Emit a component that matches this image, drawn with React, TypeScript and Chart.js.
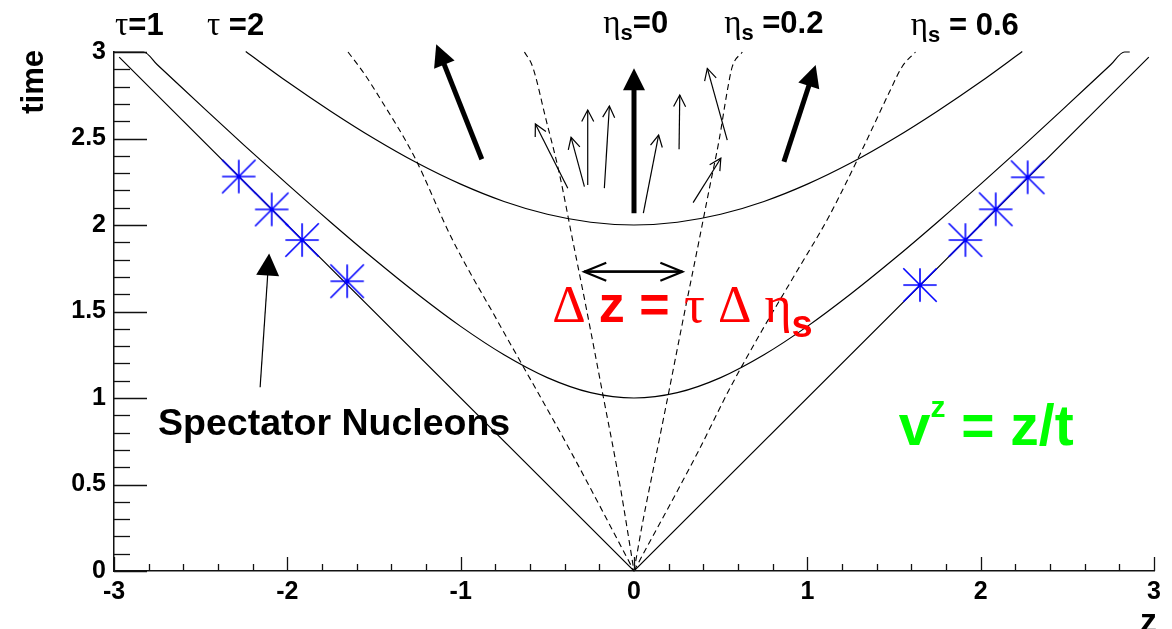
import { useEffect, useRef } from 'react';
import { Chart, registerables } from 'chart.js';

Chart.register(...registerables);

// ---------- axis ticks ----------
const xTickValues = [-3, -2, -1, 0, 1, 2, 3];
const xTickLabels = ['-3', '-2', '-1', '0', '1', '2', '3'];
const yTickValues = [0, 0.5, 1, 1.5, 2, 2.5, 3];
const yTickLabels = ['0', '0.5', '1', '1.5', '2', '2.5', '3'];

// ---------- light cone t = |z| ----------
const lightConeZ = [-2.97, 0, 2.97];
const lightConeT = [2.97, 0, 2.97];

// ---------- hyperbola tau = 1 ----------
const tau1Z = [-3, -2.83, -2.75, -2.5, -2.25, -2, -1.75, -1.5, -1.25, -1, -0.75, -0.5, -0.25, 0,
  0.25, 0.5, 0.75, 1, 1.25, 1.5, 1.75, 2, 2.25, 2.5, 2.75, 2.83, 2.86];
const tau1T = [3, 3, 2.926, 2.693, 2.462, 2.236, 2.016, 1.803, 1.601, 1.414, 1.25, 1.118, 1.031, 1,
  1.031, 1.118, 1.25, 1.414, 1.601, 1.803, 2.016, 2.236, 2.462, 2.693, 2.926, 3, 3];

// ---------- hyperbola tau = 2 ----------
const tau2Z = [-2.24, -2, -1.75, -1.5, -1.25, -1, -0.75, -0.5, -0.25, 0,
  0.25, 0.5, 0.75, 1, 1.25, 1.5, 1.75, 2, 2.24];
const tau2T = [3.003, 2.828, 2.658, 2.5, 2.358, 2.236, 2.136, 2.062, 2.016, 2,
  2.016, 2.062, 2.136, 2.236, 2.358, 2.5, 2.658, 2.828, 3.003];

// ---------- space-time rapidity lines (dashed) ----------
const etaM06Z = [-1.65, -1.56, -1.47, -1.27, -1.05, -0.79, -0.37, 0];
const etaM06T = [3.0, 2.88, 2.74, 2.4, 1.92, 1.45, 0.7, 0];
const etaM02Z = [-0.632, -0.585, -0.507, -0.431, -0.354, -0.277, -0.181, -0.085, 0];
const etaM02T = [3.0, 2.915, 2.607, 2.299, 1.913, 1.528, 1.027, 0.52, 0];
const etaP02Z = [0, 0.049, 0.126, 0.203, 0.279, 0.376, 0.433, 0.491, 0.539, 0.567, 0.625];
const etaP02T = [0, 0.276, 0.661, 1.046, 1.432, 1.913, 2.202, 2.491, 2.78, 2.915, 3.0];
const etaP06Z = [0, 0.37, 0.548, 0.74, 0.933, 1.124, 1.316, 1.47, 1.547, 1.624];
const etaP06T = [0, 0.69, 1.046, 1.393, 1.721, 2.048, 2.434, 2.761, 2.915, 3.0];

// ---------- spectator nucleons ----------
const spectatorZ = [-2.28, -2.09, -1.915, -1.655, 1.65, 1.912, 2.087, 2.271];
const spectatorT = [2.28, 2.09, 1.913, 1.675, 1.653, 1.913, 2.091, 2.276];

// ---------- arrows (from [z,t] -> to [z,t]) ----------
const thickArrowFrom = [[-0.878, 2.38], [0, 2.068], [0.865, 2.366]];
const thickArrowTo = [[-1.141, 3.045], [0, 2.906], [1.048, 2.925]];
const thinArrowFrom = [[-0.382, 2.213], [-0.286, 2.222], [-0.267, 2.231], [-0.171, 2.213],
  [0.054, 2.068], [0.26, 2.438], [0.538, 2.491], [0.341, 2.129]];
const thinArrowTo = [[-0.569, 2.584], [-0.363, 2.507], [-0.267, 2.665], [-0.142, 2.688],
  [0.142, 2.52], [0.264, 2.751], [0.423, 2.905], [0.501, 2.386]];
const doubleArrowFrom = [-0.287, 1.73];
const doubleArrowTo = [0.279, 1.73];
const spectatorArrowFrom = [-2.157, 1.062];
const spectatorArrowTo = [-2.105, 1.835];

const SANS = '"Liberation Sans", Arial, Helvetica, sans-serif';
const SERIF = '"Liberation Serif", "DejaVu Serif", serif';
const bold = (px: number) => `bold ${px}px ${SANS}`;
const greek = (px: number) => `${px}px ${SERIF}`;

type Part = { t: string; f: string; dy?: number; c?: string };
type Label = { z: number; t: number; parts: Part[]; color: string };

const labels: Label[] = [
  { z: -2.994, t: 3.098, color: '#000', parts: [{ t: 'τ', f: greek(33) }, { t: '=1', f: bold(31) }] },
  { z: -2.464, t: 3.098, color: '#000', parts: [{ t: 'τ', f: greek(33) }, { t: ' =2', f: bold(31) }] },
  { z: -0.177, t: 3.11, color: '#000', parts: [{ t: 'η', f: greek(33) }, { t: 's', f: bold(22), dy: 7 }, { t: '=0', f: bold(31) }] },
  { z: 0.52, t: 3.11, color: '#000', parts: [{ t: 'η', f: greek(33) }, { t: 's', f: bold(22), dy: 7 }, { t: ' =0.2', f: bold(31) }] },
  { z: 1.597, t: 3.098, color: '#000', parts: [{ t: 'η', f: greek(33) }, { t: 's', f: bold(22), dy: 7 }, { t: ' = 0.6', f: bold(31) }] },
  { z: -2.746, t: 0.786, color: '#000', parts: [{ t: 'Spectator Nucleons', f: bold(37.5) }] },
  {
    z: -0.471, t: 1.441, color: '#ff0000', parts: [
      { t: 'Δ ', f: greek(52) }, { t: 'z = ', f: bold(52) }, { t: 'τ Δ η', f: greek(52) },
      { t: 's', f: bold(38), dy: 15 },
    ],
  },
  {
    z: 1.527, t: 0.728, color: '#00ff00', parts: [
      { t: 'v', f: bold(57) }, { t: 'z', f: bold(30), dy: -28 }, { t: ' = z/t', f: bold(57) },
    ],
  },
];

function pts(zs: number[], ts: number[]) {
  return zs.map((x, i) => ({ x, y: ts[i] }));
}

function drawArrow(ctx: CanvasRenderingContext2D, x1: number, y1: number, x2: number, y2: number,
  width: number, headLen: number, headHalf: number, filled: boolean) {
  const ang = Math.atan2(y2 - y1, x2 - x1);
  const c = Math.cos(ang), s = Math.sin(ang);
  const bx = x2 - c * headLen, by = y2 - s * headLen;
  ctx.lineWidth = width;
  ctx.beginPath();
  ctx.moveTo(x1, y1);
  ctx.lineTo(filled ? bx + c * 2 : x2, filled ? by + s * 2 : y2);
  ctx.stroke();
  const lx = bx + s * headHalf, ly = by - c * headHalf;
  const rx = bx - s * headHalf, ry = by + c * headHalf;
  ctx.beginPath();
  if (filled) {
    ctx.moveTo(x2, y2); ctx.lineTo(lx, ly); ctx.lineTo(rx, ry); ctx.closePath(); ctx.fill();
  } else {
    ctx.moveTo(lx, ly); ctx.lineTo(x2, y2); ctx.lineTo(rx, ry); ctx.stroke();
  }
}

const decorPlugin = {
  id: 'decor',
  afterDatasetsDraw(chart: any) {
    const ctx: CanvasRenderingContext2D = chart.ctx;
    const xs = chart.scales.x, ys = chart.scales.y;
    const area = chart.chartArea;
    const X = (v: number) => xs.getPixelForValue(v);
    const Y = (v: number) => ys.getPixelForValue(v);
    ctx.save();
    // inside ticks
    ctx.strokeStyle = '#111';
    ctx.lineWidth = 1.3;
    for (let i = 0; i <= 30; i++) {
      const v = i / 10;
      const py = Math.round(Y(v)) + 0.5;
      const len = i % 5 === 0 ? 33 : 16;
      ctx.beginPath(); ctx.moveTo(area.left, py); ctx.lineTo(area.left + len, py); ctx.stroke();
    }
    for (let i = 0; i <= 30; i++) {
      const v = -3 + i * 0.2;
      const px = Math.round(X(v)) + 0.5;
      const len = i % 5 === 0 ? 14 : 7;
      ctx.beginPath(); ctx.moveTo(px, area.bottom); ctx.lineTo(px, area.bottom - len); ctx.stroke();
    }

    // arrows
    ctx.strokeStyle = '#000';
    ctx.fillStyle = '#000';
    ctx.lineCap = 'butt';
    thickArrowFrom.forEach((f, i) => {
      const to = thickArrowTo[i];
      drawArrow(ctx, X(f[0]), Y(f[1]), X(to[0]), Y(to[1]), 5, 22, 11, true);
    });
    thinArrowFrom.forEach((f, i) => {
      const to = thinArrowTo[i];
      drawArrow(ctx, X(f[0]), Y(f[1]), X(to[0]), Y(to[1]), 1.2, 11.5, 6, false);
    });
    drawArrow(ctx, X(spectatorArrowFrom[0]), Y(spectatorArrowFrom[1]), X(spectatorArrowTo[0]), Y(spectatorArrowTo[1]), 1.2, 22, 11.5, true);
    const dax1 = X(doubleArrowFrom[0]), day1 = Y(doubleArrowFrom[1]);
    const dax2 = X(doubleArrowTo[0]), day2 = Y(doubleArrowTo[1]);
    drawArrow(ctx, dax1, day1, dax2, day2, 2.2, 22, 9, false);
    drawArrow(ctx, dax2, day2, dax1, day1, 2.2, 22, 9, false);

    // texts
    ctx.textAlign = 'left';
    ctx.textBaseline = 'alphabetic';
    labels.forEach((lb) => {
      let cx = X(lb.z);
      const cy = Y(lb.t);
      lb.parts.forEach((p) => {
        ctx.font = p.f;
        ctx.fillStyle = p.c || lb.color;
        ctx.fillText(p.t, cx, cy + (p.dy || 0));
        cx += ctx.measureText(p.t).width;
      });
    });

    // axis titles
    ctx.fillStyle = '#000';
    ctx.font = bold(31);
    ctx.save();
    ctx.translate(area.left - 71, area.top - 2);
    ctx.rotate(-Math.PI / 2);
    ctx.textAlign = 'right';
    ctx.fillText('time', 0, 0);
    ctx.restore();
    ctx.font = bold(34);
    ctx.textAlign = 'right';
    ctx.fillText('z', area.right + 3, area.bottom + 61);
    ctx.restore();
  },
};

function makeStar(): HTMLCanvasElement {
  const c = document.createElement('canvas');
  c.width = 36; c.height = 36;
  const g = c.getContext('2d')!;
  const m = 18, r = 16.7;
  g.strokeStyle = '#0000ff';
  g.lineWidth = 1.6;
  g.beginPath();
  g.moveTo(m - r, m); g.lineTo(m + r, m);
  g.moveTo(m, m - r); g.lineTo(m, m + r);
  g.moveTo(m - r, m - r); g.lineTo(m + r, m + r);
  g.moveTo(m - r, m + r); g.lineTo(m + r, m - r);
  g.stroke();
  g.fillStyle = '#0000ff';
  g.beginPath(); g.arc(m, m, 1.6, 0, Math.PI * 2); g.fill();
  return c;
}

export default function App() {
  const ref = useRef<HTMLCanvasElement | null>(null);
  useEffect(() => {
    if (!ref.current) return;
    const star = makeStar();
    const solid = (zs: number[], ts: number[]) => ({
      data: pts(zs, ts), showLine: true, pointRadius: 0, borderColor: '#000', borderWidth: 1.2,
      cubicInterpolationMode: 'monotone', fill: false, clip: false,
    });
    const straight = (zs: number[], ts: number[]) => ({
      ...solid(zs, ts), cubicInterpolationMode: 'default', tension: 0,
    });
    const dashed = (zs: number[], ts: number[]) => ({
      ...solid(zs, ts), borderDash: [6, 4], borderWidth: 1.1,
    });
    const chart = new Chart(ref.current, {
      type: 'scatter',
      data: {
        datasets: [
          {
            data: pts(spectatorZ, spectatorT), showLine: false, pointStyle: star as any,
            pointRadius: 17, borderColor: '#0000ff', backgroundColor: '#0000ff', clip: false,
          } as any,
          straight(lightConeZ, lightConeT) as any,
          solid(tau1Z, tau1T) as any,
          solid(tau2Z, tau2T) as any,
          dashed(etaM06Z, etaM06T) as any,
          dashed(etaM02Z, etaM02T) as any,
          dashed(etaP02Z, etaP02T) as any,
          dashed(etaP06Z, etaP06T) as any,
        ],
      },
      options: {
        animation: false,
        responsive: false,
        devicePixelRatio: 1,
        layout: { padding: { left: 0, top: 52, right: 17, bottom: 0 } },
        plugins: { legend: { display: false }, tooltip: { enabled: false } },
        scales: {
          x: {
            type: 'linear', min: -3, max: 3,
            afterFit: (s: any) => { s.height = 58; },
            grid: { display: false, drawTicks: false },
            border: { display: true, color: '#111', width: 1.5 },
            afterBuildTicks: (s: any) => { s.ticks = xTickValues.map((v) => ({ value: v })); },
            ticks: {
              color: '#000', padding: 6, maxRotation: 0, autoSkip: false,
              font: { family: SANS, weight: 'bold', size: 25 },
              callback: (v: any) => xTickLabels[xTickValues.indexOf(Number(v))] ?? '',
            },
          },
          y: {
            type: 'linear', min: 0, max: 3,
            afterFit: (s: any) => { s.width = 114; },
            grid: { display: false, drawTicks: false },
            border: { display: true, color: '#111', width: 1.5 },
            afterBuildTicks: (s: any) => { s.ticks = yTickValues.map((v) => ({ value: v })); },
            ticks: {
              color: '#000', padding: 8, autoSkip: false,
              font: { family: SANS, weight: 'bold', size: 25 },
              callback: (v: any) => yTickLabels[yTickValues.indexOf(Number(v))] ?? '',
            },
          },
        },
      } as any,
      plugins: [decorPlugin],
    });
    return () => chart.destroy();
  }, []);
  return (
    <div style={{ position: 'fixed', left: 0, top: 0, width: 1172, height: 629, background: '#fff' }}>
      <canvas ref={ref} width={1172} height={629} style={{ display: 'block', width: 1172, height: 629 }} />
    </div>
  );
}
